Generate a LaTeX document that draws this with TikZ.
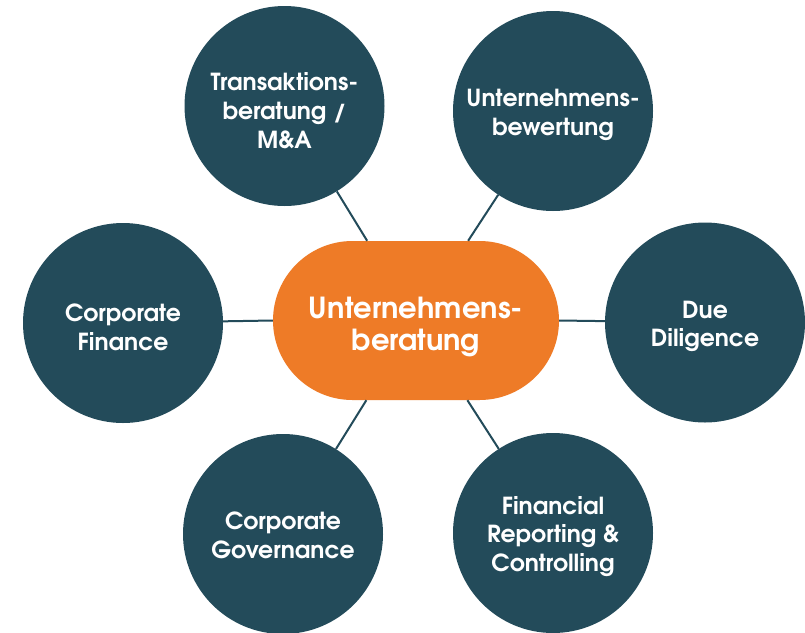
\documentclass[tikz,border=0pt]{standalone}
\usepackage{fontspec}
\setmainfont{TeX Gyre Adventor}
\usetikzlibrary{shapes.misc}
\definecolor{circ}{HTML}{234B5A}
\definecolor{orng}{HTML}{EE7B27}
\begin{document}
\begin{tikzpicture}[x=1pt,y=-1pt,
  topic/.style={circle,fill=circ,minimum size=200pt,inner sep=0pt},
  topictext/.style={inner sep=0pt,text=white,
    font=\bfseries\fontsize{23.5}{28.8}\selectfont,align=center},
  hub/.style={rounded rectangle,fill=orng,minimum width=286pt,minimum height=159pt,
    inner sep=0pt},
  hubtext/.style={inner sep=0pt,text=white,font=\bfseries\fontsize{29}{32}\selectfont,align=center},
  link/.style={draw=circ,line width=2pt}]
\useasboundingbox (0,0) rectangle (805,632);
\clip (0,0) rectangle (805,632);
\fill[white] (0,0) rectangle (805,632);
\node[hub] (c) at (416,320.5) {};
\node[topic] (tm) at (284.5,106) {};
\node[topic] (ub) at (553,111) {};
\node[topic] (cf) at (123,323) {};
\node[topic] (dd) at (705,322.5) {};
\node[topic] (cg) at (283,534) {};
\node[topic] (fr) at (553,533) {};
\node[hubtext] (ct) at ([yshift=-6pt]c.center) {Unternehmens-\\beratung};
\node[topictext] (tmt) at ([yshift=-4.5pt]tm.center) {Transaktions-\\beratung /\\M\&A};
\node[topictext] (ubt) at ([yshift=-4pt]ub.center) {Unternehmens-\\bewertung};
\node[topictext] (cft) at ([yshift=-4pt]cf.center) {Corporate\\Finance};
\node[topictext] (ddt) at ([yshift=-4pt]dd.center) {Due\\Diligence};
\node[topictext] (cgt) at ([yshift=-1.5pt]cg.center) {Corporate\\Governance};
\node[topictext] (frt) at ([yshift=-3.5pt]fr.center) {Financial\\Reporting \&\\Controlling};
\draw[link] (c) -- (tm);
\draw[link] (c) -- (ub);
\draw[link] (c.west) -- (cf);
\draw[link] (c.east) -- (dd);
\draw[link] (c) -- (cg);
\draw[link] (c) -- (fr);
\end{tikzpicture}
\end{document}
